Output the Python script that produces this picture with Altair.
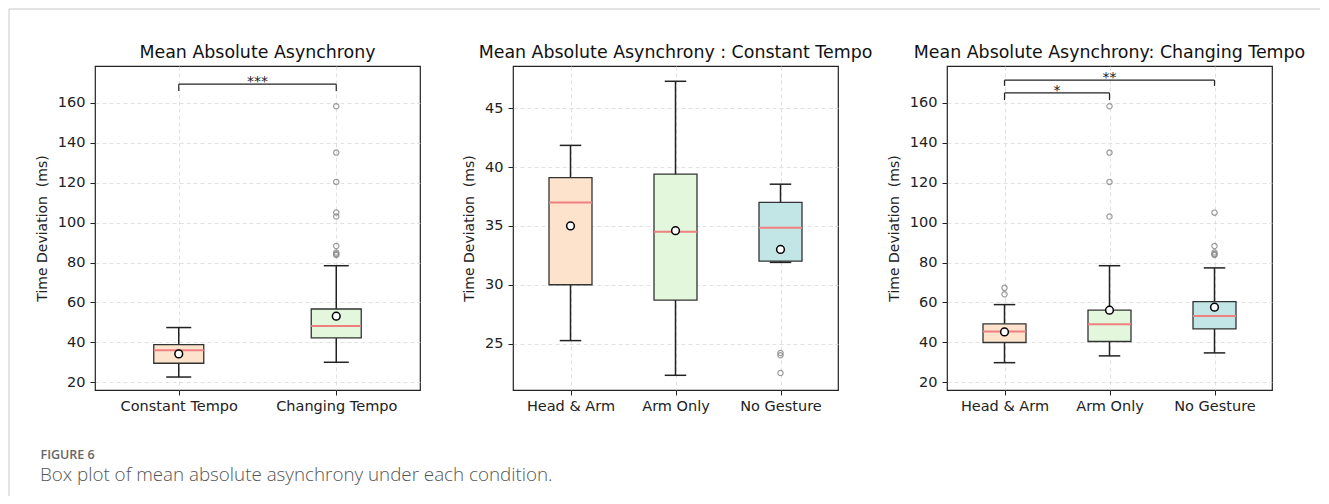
import json
import altair as alt
import pandas as pd

# ---------------- Panel 1 : Constant vs Changing ----------------
p1_title = "Mean Absolute Asynchrony"
p1_cats = ["Constant Tempo", "Changing Tempo"]
p1_colors = ["#FDE3CC", "#E3F7DC"]
p1_q1 = [29.5, 42.2]
p1_med = [36.0, 48.2]
p1_q3 = [38.8, 56.7]
p1_lo = [22.6, 30.0]
p1_hi = [47.4, 78.4]
p1_mean = [34.2, 53.1]
p1_out_cat = ["Changing Tempo"] * 9
p1_out_val = [158.3, 135.1, 120.4, 105.1, 103.1, 88.3, 85.0, 84.3, 83.8]
p1_br_a = ["Constant Tempo"]
p1_br_b = ["Changing Tempo"]
p1_br_y = [169.4]
p1_br_low = [166.0]
p1_br_lab = ["***"]
p1_ydomain = [16.1, 178.5]
p1_yticks = [20, 40, 60, 80, 100, 120, 140, 160]

# ---------------- Panel 2 : Constant tempo by gesture ----------------
p2_title = "Mean Absolute Asynchrony : Constant Tempo"
p2_cats = ["Head & Arm", "Arm Only", "No Gesture"]
p2_colors = ["#FDE3CC", "#E3F7DC", "#C2E6E5"]
p2_q1 = [30.0, 28.7, 32.0]
p2_med = [37.0, 34.5, 34.85]
p2_q3 = [39.1, 39.4, 37.0]
p2_lo = [25.25, 22.3, 31.9]
p2_hi = [41.85, 47.3, 38.55]
p2_mean = [35.0, 34.6, 33.0]
p2_out_cat = ["No Gesture", "No Gesture", "No Gesture"]
p2_out_val = [24.2, 24.0, 22.5]
p2_ydomain = [21.05, 48.6]
p2_yticks = [25, 30, 35, 40, 45]

# ---------------- Panel 3 : Changing tempo by gesture ----------------
p3_title = "Mean Absolute Asynchrony: Changing Tempo"
p3_cats = ["Head & Arm", "Arm Only", "No Gesture"]
p3_colors = ["#FDE3CC", "#E3F7DC", "#C2E6E5"]
p3_q1 = [39.9, 40.4, 46.7]
p3_med = [45.4, 49.1, 53.2]
p3_q3 = [49.2, 56.1, 60.4]
p3_lo = [29.8, 33.2, 34.7]
p3_hi = [58.9, 78.4, 77.3]
p3_mean = [45.2, 56.1, 57.6]
p3_out_cat = ["Head & Arm", "Head & Arm",
              "Arm Only", "Arm Only", "Arm Only", "Arm Only",
              "No Gesture", "No Gesture", "No Gesture", "No Gesture", "No Gesture"]
p3_out_val = [67.3, 64.1, 158.3, 135.1, 120.4, 103.1, 105.0, 88.3, 85.0, 84.3, 83.8]
p3_br_a = ["Head & Arm", "Head & Arm"]
p3_br_b = ["Arm Only", "No Gesture"]
p3_br_y = [165.0, 171.4]
p3_br_low = [161.4, 168.5]
p3_br_lab = ["*", "**"]
p3_ydomain = [16.1, 178.5]
p3_yticks = [20, 40, 60, 80, 100, 120, 140, 160]

caption_label = "FIGURE 6"
caption_text = "Box plot of mean absolute asynchrony under each condition."
y_title = "Time Deviation\u00a0 (ms)"

FONT = "DejaVu Sans"
PLOT_W, PLOT_H = 325, 324


def panel(title, cats, colors, q1, med, q3, lo, hi, mean, out_cat, out_val,
          ydomain, yticks, box_w, brackets=None):
    n = len(cats)
    pos = list(range(1, n + 1))
    boxes = pd.DataFrame(dict(pos=pos, cat=cats, color=colors, q1=q1, med=med,
                              q3=q3, lo=lo, hi=hi, mean=mean))
    outs = pd.DataFrame(dict(pos=[cats.index(c) + 1 for c in out_cat], val=out_val))
    xs = alt.Scale(domain=[0.5, n + 0.5], nice=False, zero=False)
    ys = alt.Scale(domain=ydomain, nice=False, zero=False)
    xaxis = alt.Axis(values=pos, labelExpr=json.dumps(cats) + "[round(datum.value) - 1]",
                     title=None, labelPadding=4)
    yaxis = alt.Axis(values=yticks, title=y_title, labelPadding=5, titlePadding=8)

    def X(f):
        return alt.X(f, type="quantitative", scale=xs, axis=xaxis)

    def Y(f):
        return alt.Y(f, type="quantitative", scale=ys, axis=yaxis)

    base = alt.Chart(boxes)
    whisk = base.mark_rule(color="#222222", strokeWidth=1.5).encode(
        x=X("pos"), y=Y("lo"), y2="hi")
    box = base.mark_bar(size=box_w, stroke="#333333", strokeWidth=1.3).encode(
        x=X("pos"), y=Y("q1"), y2="q3",
        color=alt.Color("color:N", scale=None))
    median = base.mark_tick(orient="horizontal", size=box_w, thickness=2,
                            color="#F08080", opacity=1).encode(x=X("pos"), y=Y("med"))
    cap_lo = base.mark_tick(orient="horizontal", size=box_w / 2, thickness=1.5,
                            color="#222222", opacity=1).encode(x=X("pos"), y=Y("lo"))
    cap_hi = base.mark_tick(orient="horizontal", size=box_w / 2, thickness=1.5,
                            color="#222222", opacity=1).encode(x=X("pos"), y=Y("hi"))
    mean_pt = base.mark_point(shape="circle", filled=True, fill="white", stroke="black",
                              strokeWidth=1.5, size=60, opacity=1).encode(
        x=X("pos"), y=Y("mean"))
    outl = alt.Chart(outs).mark_point(shape="circle", color="#8a8a8a", size=28,
                                      strokeWidth=1.2, opacity=0.85).encode(
        x=X("pos"), y=Y("val"))
    layers = [whisk, box, median, cap_lo, cap_hi, outl, mean_pt]

    if brackets is not None:
        a, b, yv, low, lab = brackets
        br = pd.DataFrame(dict(a=[cats.index(c) + 1 for c in a],
                               b=[cats.index(c) + 1 for c in b],
                               y=yv, low=low, lab=lab))
        bb = alt.Chart(br)
        layers += [
            bb.mark_rule(color="#222222", strokeWidth=1.2).encode(x=X("a"), x2="b", y=Y("y")),
            bb.mark_rule(color="#222222", strokeWidth=1.2).encode(x=X("a"), y=Y("low"), y2="y"),
            bb.mark_rule(color="#222222", strokeWidth=1.2).encode(x=X("b"), y=Y("low"), y2="y"),
            bb.transform_calculate(mid="(datum.a + datum.b) / 2").mark_text(
                font=FONT, fontSize=14, color="#222222", baseline="alphabetic", dy=2).encode(
                x=X("mid"), y=Y("y"), text="lab:N"),
        ]

    return alt.layer(*layers).properties(
        width=PLOT_W, height=PLOT_H,
        title=alt.TitleParams(title, font=FONT, fontSize=17.4, fontWeight="normal",
                              color="#111111", offset=5, frame="group", anchor="middle"),
    )


one = pd.DataFrame({"t": [caption_label]})
two = pd.DataFrame({"t": [caption_text]})

# page frame and caption, drawn from the first spacer (origin = right edge of panel 1)
SX = -PLOT_W
spacer1 = alt.layer(
    alt.Chart(one).mark_rule(color="#c8c8c8", strokeWidth=1).encode(
        x=alt.value(SX - 86), y=alt.value(-57), y2=alt.value(430)),
    alt.Chart(one).mark_rule(color="#c8c8c8", strokeWidth=1).encode(
        x=alt.value(SX - 86), x2=alt.value(SX + 1225), y=alt.value(-57)),
    alt.Chart(one).mark_text(align="left", baseline="alphabetic", font="Open Sans",
                             fontSize=12.5, fontWeight=600, color="#666666").encode(
        x=alt.value(SX - 54.5), y=alt.value(393), text="t:N"),
    alt.Chart(two).mark_text(align="left", baseline="alphabetic", font="Open Sans",
                             fontSize=18.8, fontWeight=300, color="#555555").encode(
        x=alt.value(SX - 55), y=alt.value(414.5), text="t:N"),
).properties(width=93, height=PLOT_H, view=alt.ViewBackground(strokeOpacity=0))

spacer2 = alt.Chart(one).mark_point(opacity=0).encode(
    x=alt.value(0), y=alt.value(0)).properties(
    width=109, height=PLOT_H, view=alt.ViewBackground(strokeOpacity=0))

c1 = panel(p1_title, p1_cats, p1_colors, p1_q1, p1_med, p1_q3, p1_lo, p1_hi, p1_mean,
           p1_out_cat, p1_out_val, p1_ydomain, p1_yticks, 50,
           brackets=(p1_br_a, p1_br_b, p1_br_y, p1_br_low, p1_br_lab))
c2 = panel(p2_title, p2_cats, p2_colors, p2_q1, p2_med, p2_q3, p2_lo, p2_hi, p2_mean,
           p2_out_cat, p2_out_val, p2_ydomain, p2_yticks, 43)
c3 = panel(p3_title, p3_cats, p3_colors, p3_q1, p3_med, p3_q3, p3_lo, p3_hi, p3_mean,
           p3_out_cat, p3_out_val, p3_ydomain, p3_yticks, 43,
           brackets=(p3_br_a, p3_br_b, p3_br_y, p3_br_low, p3_br_lab))

chart = alt.hconcat(c1, spacer1, c2, spacer2, c3, spacing=0, bounds="flush").properties(
    padding=0
).configure_view(
    stroke="#222222", strokeWidth=1.2
).configure_axis(
    grid=True, gridDash=[4, 3], gridColor="#d9d9d9", gridWidth=0.8,
    domain=False, tickColor="#222222", tickSize=5, tickWidth=1,
    labelFont=FONT, labelFontSize=14.5, labelColor="#222222",
    titleFont=FONT, titleFontSize=14, titleFontWeight="normal", titleColor="#222222",
)

chart.save("out.html", embed_options={"renderer": "svg", "actions": False})
